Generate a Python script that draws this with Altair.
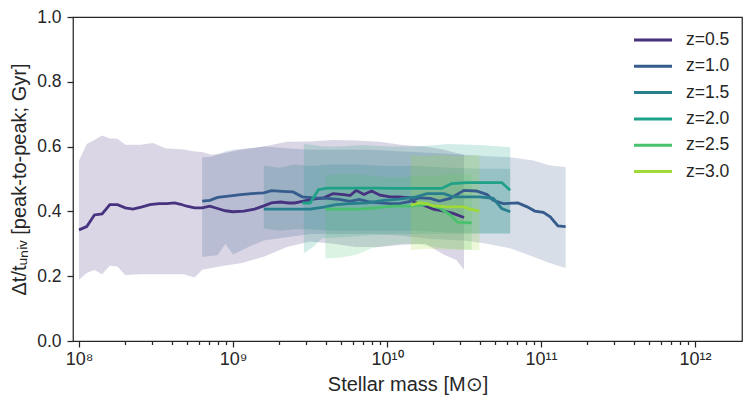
import altair as alt
import pandas as pd

# ---------------- data (log10 stellar mass, value) ----------------
z_labels = ["z=0.5", "z=1.0", "z=1.5", "z=2.0", "z=2.5", "z=3.0"]
colors = ["#46327e", "#365c8d", "#277f8e", "#1fa187", "#4ac16d", "#a0da39"]

# median lines
l05_x = [8.00, 8.05, 8.10, 8.15, 8.20, 8.25, 8.30, 8.35, 8.41, 8.46, 8.52, 8.57, 8.62, 8.66,
         8.70, 8.75, 8.80, 8.85, 8.90, 8.95, 9.00, 9.07, 9.14, 9.20, 9.25, 9.31, 9.36, 9.40,
         9.45, 9.52, 9.59, 9.65, 9.72, 9.76, 9.80, 9.85, 9.90, 9.955, 10.02, 10.08, 10.15,
         10.18, 10.24, 10.30, 10.37, 10.43, 10.50]
l05_y = [0.343, 0.353, 0.389, 0.392, 0.421, 0.421, 0.411, 0.407, 0.414, 0.421, 0.424, 0.424,
         0.426, 0.422, 0.416, 0.411, 0.411, 0.416, 0.409, 0.402, 0.399, 0.401, 0.407, 0.417,
         0.426, 0.429, 0.426, 0.426, 0.431, 0.438, 0.442, 0.455, 0.452, 0.449, 0.465, 0.452,
         0.463, 0.450, 0.445, 0.445, 0.442, 0.427, 0.419, 0.407, 0.401, 0.394, 0.381]

l10_x = [8.80, 8.85, 8.90, 8.97, 9.05, 9.12, 9.20, 9.25, 9.32, 9.39, 9.45, 9.52, 9.61, 9.69,
         9.76, 9.82, 9.89, 9.955, 10.02, 10.08, 10.15, 10.21, 10.28, 10.34, 10.41, 10.50,
         10.58, 10.65, 10.69, 10.755, 10.85, 10.91, 10.96, 11.015, 11.06, 11.11, 11.16]
l10_y = [0.432, 0.434, 0.443, 0.447, 0.452, 0.455, 0.457, 0.464, 0.462, 0.460, 0.445, 0.442,
         0.440, 0.437, 0.431, 0.437, 0.429, 0.426, 0.424, 0.424, 0.431, 0.442, 0.440, 0.432,
         0.440, 0.465, 0.463, 0.452, 0.434, 0.424, 0.426, 0.414, 0.401, 0.397, 0.383, 0.355,
         0.353]

l15_x = [9.20, 9.30, 9.39, 9.50, 9.59, 9.67, 9.76, 9.87, 9.98, 10.08, 10.19, 10.26, 10.37,
         10.43, 10.52, 10.60, 10.69, 10.745, 10.80]
l15_y = [0.407, 0.407, 0.407, 0.407, 0.413, 0.421, 0.424, 0.426, 0.434, 0.438, 0.445, 0.455,
         0.455, 0.445, 0.445, 0.445, 0.440, 0.409, 0.399]

l20_x = [9.45, 9.50, 9.555, 9.61, 9.70, 9.82, 9.92, 10.04, 10.15, 10.25, 10.355, 10.42,
         10.52, 10.62, 10.745, 10.80]
l20_y = [0.426, 0.426, 0.467, 0.472, 0.472, 0.472, 0.472, 0.471, 0.471, 0.471, 0.471, 0.486,
         0.489, 0.489, 0.489, 0.465]

l25_x = [9.60, 9.70, 9.82, 9.93, 10.04, 10.15, 10.26, 10.34, 10.41, 10.46, 10.55]
l25_y = [0.407, 0.407, 0.407, 0.411, 0.416, 0.416, 0.422, 0.411, 0.389, 0.366, 0.365]

l30_x = [10.155, 10.21, 10.26, 10.30, 10.39, 10.50, 10.54, 10.60]
l30_y = [0.419, 0.426, 0.424, 0.417, 0.414, 0.414, 0.407, 0.401]

# scatter bands (lower, upper)
b05_x = [8.00, 8.05, 8.10, 8.15, 8.20, 8.25, 8.30, 8.40, 8.48, 8.56, 8.68, 8.75, 8.80, 8.86,
         8.95, 9.05, 9.20, 9.35, 9.50, 9.65, 9.80, 9.95, 10.10, 10.25, 10.37, 10.45, 10.50]
b05_hi = [0.557, 0.608, 0.620, 0.634, 0.625, 0.624, 0.606, 0.606, 0.611, 0.595, 0.591, 0.585,
          0.583, 0.575, 0.580, 0.590, 0.600, 0.615, 0.616, 0.620, 0.619, 0.615, 0.605, 0.600,
          0.590, 0.580, 0.575]
b05_lo = [0.189, 0.210, 0.219, 0.206, 0.232, 0.230, 0.204, 0.206, 0.206, 0.206, 0.206, 0.196,
          0.220, 0.225, 0.233, 0.240, 0.260, 0.290, 0.307, 0.300, 0.290, 0.290, 0.297, 0.300,
          0.266, 0.250, 0.220]

b10_x = [8.80, 8.85, 8.90, 8.95, 9.00, 9.10, 9.20, 9.35, 9.50, 9.70, 9.90, 10.10, 10.30,
         10.50, 10.65, 10.80, 10.95, 11.06, 11.16]
b10_hi = [0.567, 0.568, 0.575, 0.585, 0.590, 0.595, 0.600, 0.595, 0.590, 0.590, 0.590, 0.585,
          0.580, 0.575, 0.570, 0.567, 0.557, 0.542, 0.537]
b10_lo = [0.259, 0.262, 0.265, 0.300, 0.267, 0.290, 0.310, 0.320, 0.330, 0.330, 0.330, 0.325,
          0.315, 0.310, 0.300, 0.286, 0.260, 0.240, 0.225]

b15_x = [9.20, 9.30, 9.40, 9.50, 9.65, 9.80, 10.00, 10.20, 10.40, 10.60, 10.80]
b15_hi = [0.542, 0.535, 0.545, 0.540, 0.545, 0.545, 0.540, 0.540, 0.535, 0.532, 0.532]
b15_lo = [0.348, 0.340, 0.345, 0.345, 0.340, 0.340, 0.340, 0.340, 0.335, 0.332, 0.332]

b20_x = [9.46, 9.52, 9.58, 9.70, 9.85, 10.00, 10.20, 10.40, 10.60, 10.80]
b20_hi = [0.608, 0.605, 0.600, 0.600, 0.605, 0.600, 0.600, 0.608, 0.605, 0.598]
b20_lo = [0.271, 0.290, 0.317, 0.320, 0.325, 0.330, 0.330, 0.330, 0.332, 0.332]

b25_x = [9.60, 9.70, 9.80, 9.90, 10.00, 10.10, 10.20, 10.30, 10.40, 10.55]
b25_hi = [0.511, 0.515, 0.515, 0.510, 0.505, 0.505, 0.510, 0.510, 0.515, 0.515]
b25_lo = [0.255, 0.258, 0.266, 0.286, 0.295, 0.300, 0.300, 0.290, 0.285, 0.281]

b30_x = [10.155, 10.25, 10.35, 10.45, 10.60]
b30_hi = [0.573, 0.570, 0.575, 0.570, 0.573]
b30_lo = [0.281, 0.285, 0.283, 0.282, 0.281]

# ---------------- tables ----------------
lines = [(l05_x, l05_y), (l10_x, l10_y), (l15_x, l15_y), (l20_x, l20_y), (l25_x, l25_y), (l30_x, l30_y)]
bands = [(b05_x, b05_lo, b05_hi), (b10_x, b10_lo, b10_hi), (b15_x, b15_lo, b15_hi),
         (b20_x, b20_lo, b20_hi), (b25_x, b25_lo, b25_hi), (b30_x, b30_lo, b30_hi)]

line_rows = []
for i, (xs, ys) in enumerate(lines):
    for x, y in zip(xs, ys):
        line_rows.append({"z": z_labels[i], "mass": 10 ** x, "v": y})
line_df = pd.DataFrame(line_rows)

majors = [1e8, 1e9, 1e10, 1e11, 1e12]
minors = [k * 10.0 ** e for e in range(8, 12) for k in range(2, 10)]
xticks = sorted(majors + minors)

FONT = "Liberation Sans"
INK = "#262626"

xscale = alt.Scale(type="log", domain=[9.14e7, 2.02e12], nice=False)
yscale = alt.Scale(domain=[0, 1], nice=False)

label_expr = ("datum.value == 1e8 ? '10⁸' : datum.value == 1e9 ? '10⁹' : "
              "datum.value == 1e10 ? '10¹⁰' : datum.value == 1e11 ? '10¹¹' : "
              "datum.value == 1e12 ? '10¹²' : ''")

xaxis = alt.Axis(
    title="Stellar mass [M⊙]", values=xticks, labelExpr=label_expr,
    tickSize={"condition": {"test": "indexof([1e8,1e9,1e10,1e11,1e12], datum.value) >= 0",
                            "value": 6}, "value": 3.5},
    labelFlush=False, labelOverlap=False, grid=False, domain=False,
    labelPadding=3, titlePadding=6,
    labelFont=FONT, titleFont=FONT, labelFontSize=18, titleFontSize=20,
    labelColor=INK, titleColor=INK, tickColor=INK, tickWidth=1.25,
    titleFontWeight="normal",
)
yaxis = alt.Axis(
    title="Δt/tᵤₙᵢᵥ [peak-to-peak; Gyr]", values=[0, 0.2, 0.4, 0.6, 0.8, 1.0], format=".1f",
    tickSize=6, grid=False, domain=False, labelPadding=6, titlePadding=7,
    labelFont=FONT, titleFont=FONT, labelFontSize=17.5, titleFontSize=20,
    labelColor=INK, titleColor=INK, tickColor=INK, tickWidth=1.25,
    titleFontWeight="normal",
)

layers = []
for i, (xs, lo, hi) in enumerate(bands):
    bdf = pd.DataFrame({"mass": [10 ** x for x in xs], "lo": lo, "hi": hi})
    layers.append(
        alt.Chart(bdf).mark_area(opacity=0.2, color=colors[i]).encode(
            x=alt.X("mass:Q", scale=xscale, axis=xaxis),
            y=alt.Y("lo:Q", scale=yscale, axis=yaxis),
            y2="hi:Q",
        )
    )

line = alt.Chart(line_df).mark_line(strokeWidth=2.8).encode(
    x=alt.X("mass:Q", scale=xscale, axis=xaxis),
    y=alt.Y("v:Q", scale=yscale, axis=yaxis),
    color=alt.Color(
        "z:N", scale=alt.Scale(domain=z_labels, range=colors),
        legend=alt.Legend(
            title=None, orient="top-right", offset=12,
            symbolType="M-2,0H2", symbolSize=361, symbolStrokeWidth=3,
            labelFontSize=17.5, labelOffset=22, rowPadding=6.3,
            labelColor=INK, labelFont=FONT,
        ),
    ),
)
layers.append(line)

chart = alt.layer(*layers).properties(
    width=669, height=324,
    background="white",
    autosize=alt.AutoSizeParams(type="none"),
    padding={"left": 65, "top": 9, "right": 5, "bottom": 60},
).configure_view(
    stroke=INK, strokeWidth=1.25
)

chart.save("out.html", embed_options={"renderer": "svg", "actions": False})
